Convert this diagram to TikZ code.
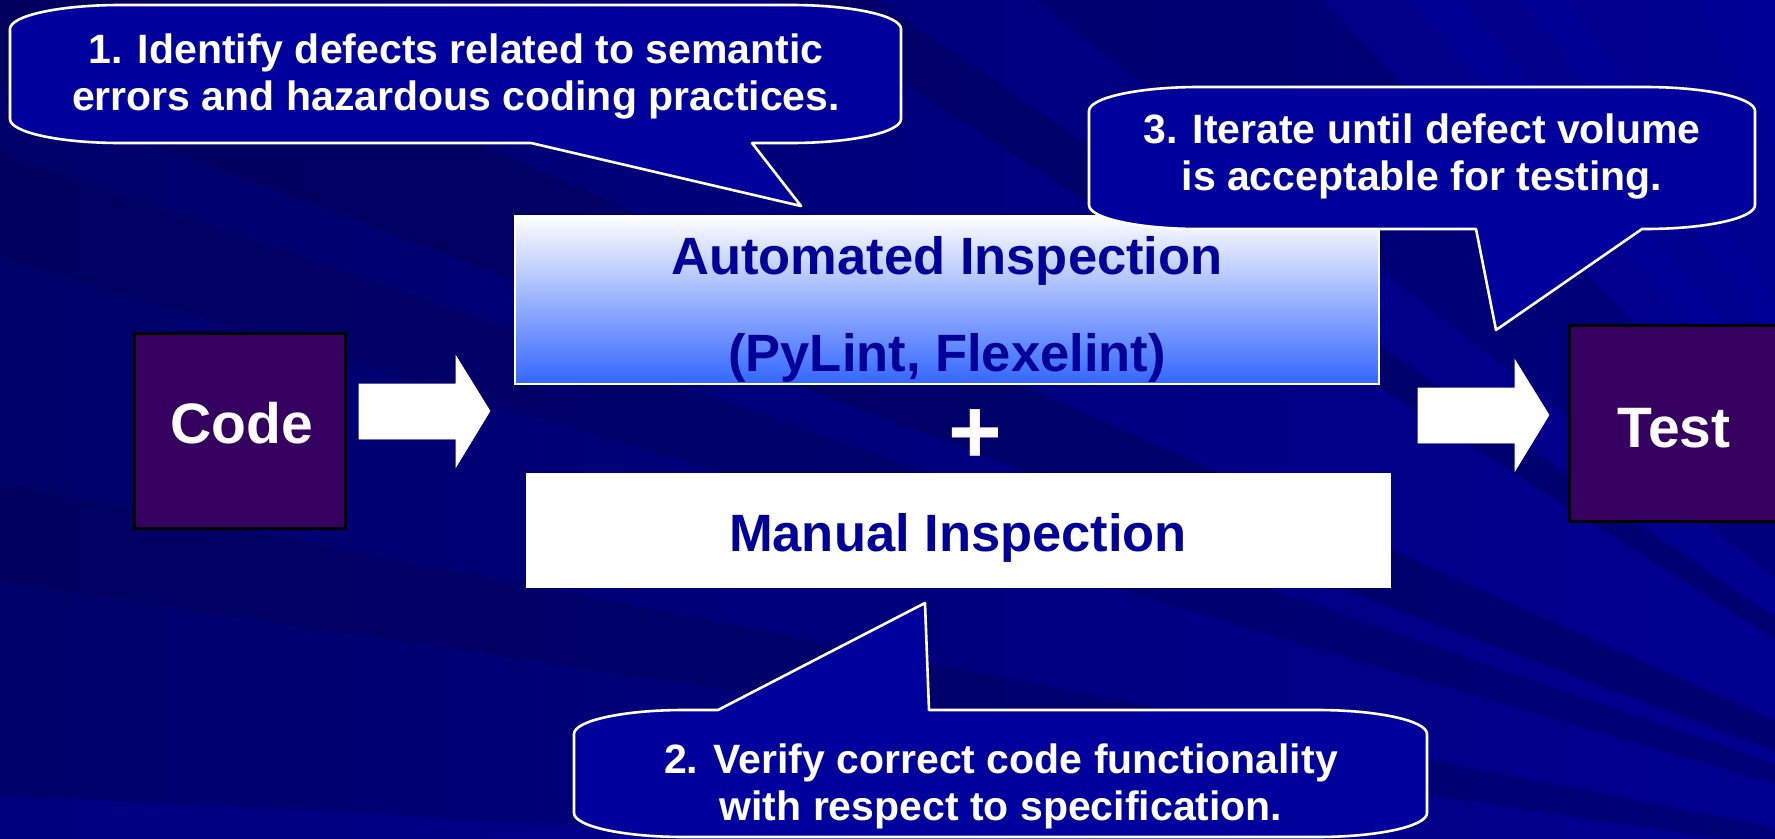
\documentclass[tikz,border=0pt]{standalone}
\usepackage{fontspec}
\setmainfont{Liberation Sans}

\definecolor{bgleft}{RGB}{0,0,106}
\definecolor{bgright}{RGB}{0,0,144}
\definecolor{streakdark}{RGB}{0,0,84}
\definecolor{streaklight}{RGB}{0,0,166}
\definecolor{bubblefill}{RGB}{0,0,156}
\definecolor{inkblue}{RGB}{0,0,153}
\definecolor{stagefill}{RGB}{54,0,96}
\definecolor{gradmid}{RGB}{176,186,255}
\definecolor{gradlow}{RGB}{51,102,255}

% Speech bubble with elliptical corners (rx=110, ry=24) and a tail on the bottom edge.
% #1 left, #2 top, #3 right, #4 bottom, #5/#6 tail base x (left/right), #7/#8 tail tip
\newcommand{\bubblebelow}[8]{%
  \draw[callout]
    ({#1},{#2+24}) .. controls ({#1},{#2+10.75}) and ({#1+49.25},{#2}) .. ({#1+110},{#2})
    -- ({#3-110},{#2}) .. controls ({#3-49.25},{#2}) and ({#3},{#2+10.75}) .. ({#3},{#2+24})
    -- ({#3},{#4-24}) .. controls ({#3},{#4-10.75}) and ({#3-49.25},{#4}) .. ({#3-110},{#4})
    -- ({#6},{#4}) -- ({#7},{#8}) -- ({#5},{#4})
    -- ({#1+110},{#4}) .. controls ({#1+49.25},{#4}) and ({#1},{#4-10.75}) .. ({#1},{#4-24})
    -- cycle;}
% Same bubble with the tail on the top edge.
\newcommand{\bubbleabove}[8]{%
  \draw[callout]
    ({#1},{#2+24}) .. controls ({#1},{#2+10.75}) and ({#1+49.25},{#2}) .. ({#1+110},{#2})
    -- ({#5},{#2}) -- ({#7},{#8}) -- ({#6},{#2})
    -- ({#3-110},{#2}) .. controls ({#3-49.25},{#2}) and ({#3},{#2+10.75}) .. ({#3},{#2+24})
    -- ({#3},{#4-24}) .. controls ({#3},{#4-10.75}) and ({#3-49.25},{#4}) .. ({#3-110},{#4})
    -- ({#1+110},{#4}) .. controls ({#1+49.25},{#4}) and ({#1},{#4-10.75}) .. ({#1},{#4-24})
    -- cycle;}
% Wide white block arrow starting at the middle of its tail end
\newcommand{\flowarrow}[1]{%
  \draw[blockarrow] (#1) ++(0,-27) -- ++(97,0) -- ++(0,-28) -- ++(34,55)
    -- ++(-34,56) -- ++(0,-28) -- ++(-97,0) -- cycle;}

\begin{document}
\begin{tikzpicture}[x=1pt,y=-1pt,
  callout/.style={draw=white, line width=2.6pt, fill=bubblefill, line join=round},
  bubbletext/.style={text=white, align=center, inner sep=0pt,
    font=\fontsize{41}{47}\selectfont\bfseries},
  stagebox/.style={draw=black, line width=3pt, fill=stagefill, inner sep=0pt},
  stagelabel/.style={text=white, inner sep=0pt, font=\fontsize{57}{64}\selectfont\bfseries},
  toollabel/.style={text=inkblue, inner sep=0pt, font=\fontsize{52.5}{60}\selectfont\bfseries},
  blockarrow/.style={fill=white, draw=white, line width=0.6pt, line join=miter}]

\useasboundingbox (0,0) rectangle (1775,838);

% background: navy with faint rays
\begin{scope}
  \clip (0,0) rectangle (1775,838);
  \shade[left color=bgleft, right color=bgright] (0,0) rectangle (1775,838);
  \coordinate (apex) at (2200,910);
  \foreach \a/\b/\c/\o in {181.5/183/streaklight/0.35,
      188.5/191/streakdark/0.4,
      196.5/199/streakdark/0.4,
      200.5/204/streakdark/0.5,
      212.5/214.5/streakdark/0.5,
      218/226/streakdark/0.35,
      229/231/streaklight/0.35,
      233.4/235.2/streaklight/0.35,
      241/262/streaklight/0.3}
    {\fill[\c, fill opacity=\o] (apex) -- +(\a:3000) -- +(\b:3000) -- cycle;}
\end{scope}

% stages
\node[stagebox, minimum width=211pt, minimum height=195pt] (code) at (239.5,430.5) {};
\node[stagebox, minimum width=216pt, minimum height=196pt] (test) at (1677,423) {};
\node[stagelabel, anchor=base] (codetext) at (242,443) {Code};
\node[stagelabel, anchor=base] (testtext) at (1674,447) {Test};

% inspection blocks
\node[draw=white, line width=1.5pt, top color=white, middle color=gradmid,
  bottom color=gradlow, minimum width=864pt, minimum height=168pt, inner sep=0pt]
  (auto) at (947,300) {};
\node[fill=white, minimum width=865pt, minimum height=115pt, inner sep=0pt]
  (manual) at (958.5,530.5) {};
\node[toollabel, anchor=base] (autotitle) at (947,274) {Automated Inspection};
\node[toollabel, anchor=base] (autotools) at (947,371) {(PyLint, Flexelint)};
\node[toollabel, anchor=base] (manualtitle) at (958,551) {Manual Inspection};
\node[text=white, inner sep=0pt, font=\fontsize{92}{100}\selectfont\bfseries, anchor=base]
  (plus) at (975,463) {+};

% flow arrows
\coordinate (flowin) at (359,411);
\coordinate (flowout) at (1418,415);
\flowarrow{flowin}
\flowarrow{flowout}

% notes
\bubblebelow{10}{5}{901}{143}{531}{752}{801}{206}
\node[bubbletext] (note1) at (456,76)
  {1. Identify defects related to semantic\\errors and hazardous coding practices.};
\bubblebelow{1089}{87}{1755}{229}{1476}{1642}{1496}{330}
\node[bubbletext] (note3) at (1422,156)
  {3. Iterate until defect volume\\is acceptable for testing.};
\bubbleabove{574}{710}{1427}{837}{718}{929}{925}{603}
\node[bubbletext] (note2) at (1001,786)
  {2. Verify correct code functionality\\with respect to specification.};
\end{tikzpicture}
\end{document}
